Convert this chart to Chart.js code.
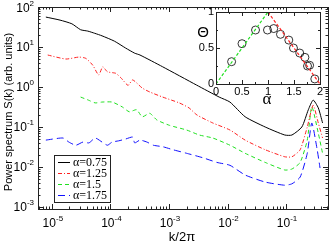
<!DOCTYPE html>
<html>
<head>
<meta charset="utf-8">
<script src="https://cdn.jsdelivr.net/npm/chart.js@4.4.1/dist/chart.umd.min.js"></script>
<style>
  body { margin: 0; background: #fff; }
  #wrap { position: relative; width: 332px; height: 244px; }
  #main { position: absolute; left: 0; top: 0; }
  #inset { position: absolute; left: 196px; top: 0; }
</style>
</head>
<body>
<div id="wrap">
  <canvas id="main" width="332" height="244"></canvas>
  <canvas id="inset" width="134" height="106"></canvas>
</div>
<script>
// power spectra, k/2pi vs S(k)
const k075 = [7.9e-6, 1.38e-5, 2.2e-5, 3.1e-5, 4.1e-5, 5.4e-5, 7.2e-5, 1.17e-4, 1.82e-4, 2.6e-4, 3.2e-4, 7.8e-4, 2.95e-3, 7.2e-3, 0.011, 0.02, 0.044, 0.095, 0.126, 0.186, 0.24, 0.29, 0.355, 0.42];
const s075 = [56, 47, 38, 27, 25, 22, 19, 14, 9.4, 7, 6.3, 3.2, 1.12, 0.56, 0.42, 0.18, 0.1, 0.063, 0.063, 0.1, 0.27, 0.47, 0.3, 0.126];

const k125 = [8.5e-6, 1.74e-5, 2.9e-5, 3.8e-5, 5.0e-5, 6.3e-5, 7.4e-5, 8.9e-5, 1.23e-4, 1.51e-4, 2.0e-4, 2.4e-4, 3.5e-4, 4.7e-4, 7.8e-4, 1.5e-3, 2.2e-3, 3.0e-3, 5.6e-3, 0.011, 0.02, 0.044, 0.095, 0.126, 0.174, 0.23, 0.29, 0.355, 0.42];
const s125 = [6.3, 5.0, 5.6, 5.2, 3.5, 2.0, 3.2, 2.4, 2.2, 1.7, 1.1, 1.5, 0.94, 0.75, 0.56, 0.4, 0.3, 0.2, 0.126, 0.084, 0.047, 0.027, 0.018, 0.018, 0.027, 0.1, 0.35, 0.126, 0.053];

const k150 = [3.1e-5, 4.2e-5, 5.5e-5, 7.2e-5, 1.07e-4, 1.58e-4, 2.1e-4, 2.8e-4, 3.5e-4, 4.7e-4, 6.2e-4, 1.02e-3, 2.0e-3, 3.3e-3, 5.6e-3, 0.011, 0.02, 0.044, 0.095, 0.126, 0.174, 0.23, 0.275, 0.355, 0.42];
const s150 = [0.56, 0.47, 0.4, 0.42, 0.42, 0.32, 0.24, 0.27, 0.18, 0.22, 0.15, 0.11, 0.084, 0.063, 0.053, 0.035, 0.022, 0.013, 0.0084, 0.0089, 0.013, 0.047, 0.32, 0.07, 0.022];

const k175 = [7.9e-6, 1.55e-5, 1.95e-5, 2.57e-5, 3.4e-5, 4.3e-5, 5.5e-5, 7.2e-5, 8.9e-5, 1.07e-4, 1.38e-4, 1.82e-4, 2.4e-4, 2.6e-4, 3.2e-4, 4.2e-4, 5.4e-4, 7.9e-4, 1.17e-3, 2.0e-3, 3.8e-3, 6.6e-3, 0.011, 0.02, 0.044, 0.095, 0.126, 0.174, 0.23, 0.275, 0.34, 0.38];
const s175 = [0.047, 0.053, 0.042, 0.035, 0.042, 0.04, 0.053, 0.042, 0.035, 0.042, 0.045, 0.05, 0.056, 0.04, 0.047, 0.042, 0.035, 0.032, 0.027, 0.022, 0.017, 0.013, 0.011, 0.0063, 0.0042, 0.0035, 0.0038, 0.0056, 0.022, 0.126, 0.027, 0.0094];

const seriesLabels = ['α=0.75', 'α=1.25', 'α=1.5', 'α=1.75'];
const xTickExp = [-5, -4, -3, -2, -1];
const yTickExp = [-3, -2, -1, 0, 1, 2];

// inset: Theta vs alpha
const alphaPts = [0.30, 0.50, 0.76, 0.99, 1.11, 1.24, 1.40, 1.49, 1.61, 1.71, 1.76, 1.80, 1.90];
const thetaPts = [0.31, 0.56, 0.75, 0.75, 0.77, 0.69, 0.61, 0.50, 0.43, 0.37, 0.25, 0.26, 0.07];
const riseA = [0, 1], riseT = [0, 1];
const fallA = [1, 2], fallT = [1, 0];
const insetXTicks = [0, 0.5, 1, 1.5, 2];
const insetYTicks = [0, 0.5, 1];

const SANS = '"Liberation Sans", Arial, sans-serif';
const SERIF = '"Liberation Serif", "Times New Roman", serif';

function pts(xs, ys) {
  return xs.map((x, i) => ({ x: x, y: ys[i] }));
}

// "10" with raised exponent
function powLabel(ctx, exp, x, y, align) {
  ctx.font = '12px ' + SANS;
  const w1 = ctx.measureText('10').width;
  ctx.font = '8px ' + SANS;
  const w2 = ctx.measureText(String(exp)).width;
  let x0 = x - (w1 + w2) / 2;
  if (align === 'right') x0 = x - w1 - w2;
  ctx.textAlign = 'left';
  ctx.textBaseline = 'alphabetic';
  ctx.font = '12px ' + SANS;
  ctx.fillText('10', x0, y);
  ctx.font = '8px ' + SANS;
  ctx.fillText(String(exp), x0 + w1, y - 6);
}

function logValues(min, max) {
  const out = [];
  for (let e = Math.floor(Math.log10(min)); e <= Math.ceil(Math.log10(max)); e++) {
    for (let m = 1; m < 10; m++) {
      const v = m * Math.pow(10, e);
      if (v >= min && v <= max) out.push({ v: v, major: m === 1 });
    }
  }
  return out;
}

const mainDecor = {
  id: 'mainDecor',
  afterDraw(chart) {
    const ctx = chart.ctx;
    const a = chart.chartArea;
    const xs = chart.scales.x, ys = chart.scales.y;
    ctx.save();
    ctx.strokeStyle = '#222';
    ctx.lineWidth = 1;
    ctx.strokeRect(Math.round(a.left) + 0.5, Math.round(a.top) + 0.5, Math.round(a.width), Math.round(a.height));

    ctx.beginPath();
    logValues(xs.min, xs.max).forEach(t => {
      const px = Math.round(xs.getPixelForValue(t.v)) + 0.5;
      const len = t.major ? 5 : 2.5;
      ctx.moveTo(px, a.bottom); ctx.lineTo(px, a.bottom - len);
      ctx.moveTo(px, a.top); ctx.lineTo(px, a.top + len);
    });
    logValues(ys.min, ys.max).forEach(t => {
      const py = Math.round(ys.getPixelForValue(t.v)) + 0.5;
      const len = t.major ? 5 : 2.5;
      ctx.moveTo(a.left, py); ctx.lineTo(a.left + len, py);
      ctx.moveTo(a.right, py); ctx.lineTo(a.right - len, py);
    });
    ctx.stroke();

    ctx.fillStyle = '#000';
    xTickExp.forEach(e => {
      powLabel(ctx, e, xs.getPixelForValue(Math.pow(10, e)) + 1, a.bottom + 18, 'center');
    });
    yTickExp.forEach(e => {
      powLabel(ctx, e, a.left - 4, ys.getPixelForValue(Math.pow(10, e)) + 4.5, 'right');
    });

    // axis titles
    ctx.font = '13px ' + SANS;
    ctx.textAlign = 'center';
    ctx.textBaseline = 'middle';
    ctx.fillText('k/2π', (a.left + a.right) / 2 - 1, 237);
    ctx.save();
    ctx.translate(9, 112);
    ctx.rotate(-Math.PI / 2);
    ctx.font = '11px ' + SANS;
    ctx.fillText('Power spectrum S(k) (arb. units)', 0, 0);
    ctx.restore();

    // legend box
    const bx = 54.5, by = 155.5, bw = 56, bh = 47;
    ctx.fillStyle = '#fff';
    ctx.fillRect(bx, by, bw, bh);
    ctx.strokeStyle = '#222';
    ctx.strokeRect(bx, by, bw, bh);
    chart.data.datasets.forEach((ds, i) => {
      const yy = 162.5 + i * 11;
      ctx.strokeStyle = ds.borderColor;
      ctx.lineWidth = 1;
      ctx.setLineDash(ds.borderDash || []);
      ctx.beginPath();
      ctx.moveTo(58, yy); ctx.lineTo(70, yy);
      ctx.stroke();
      ctx.setLineDash([]);
      ctx.fillStyle = '#000';
      ctx.font = '12px ' + SERIF;
      ctx.textAlign = 'left';
      ctx.textBaseline = 'middle';
      ctx.fillText(ds.label, 73, yy + 0.5);
    });
    ctx.restore();
  }
};

new Chart(document.getElementById('main'), {
  type: 'line',
  data: {
    datasets: [
      { label: seriesLabels[0], data: pts(k075, s075), borderColor: '#000000', borderWidth: 1, borderDash: [] },
      { label: seriesLabels[1], data: pts(k125, s125), borderColor: '#ff2020', borderWidth: 1, borderDash: [4, 2, 1, 2] },
      { label: seriesLabels[2], data: pts(k150, s150), borderColor: '#20e020', borderWidth: 1, borderDash: [4, 3] },
      { label: seriesLabels[3], data: pts(k175, s175), borderColor: '#1010ff', borderWidth: 1, borderDash: [7, 4] }
    ]
  },
  options: {
    responsive: false,
    animation: false,
    devicePixelRatio: 1,
    events: [],
    layout: { padding: { left: 38, top: 7, right: 4, bottom: 35 } },
    elements: { point: { radius: 0 }, line: { tension: 0.2 } },
    scales: {
      x: { type: 'logarithmic', min: 5.8e-6, max: 0.52, display: false },
      y: { type: 'logarithmic', min: 8.9e-4, max: 100, display: false }
    },
    plugins: { legend: { display: false }, tooltip: { enabled: false } }
  },
  plugins: [mainDecor]
});

const insetDecor = {
  id: 'insetDecor',
  afterDraw(chart) {
    const ctx = chart.ctx;
    const a = chart.chartArea;
    const xs = chart.scales.x, ys = chart.scales.y;
    ctx.save();
    ctx.strokeStyle = '#222';
    ctx.lineWidth = 1;
    ctx.strokeRect(Math.round(a.left) + 0.5, Math.round(a.top) + 0.5, Math.round(a.width), Math.round(a.height));
    ctx.beginPath();
    for (let v = 0; v <= 2.0001; v += 0.25) {
      const px = Math.round(xs.getPixelForValue(v)) + 0.5;
      const len = (Math.abs(v * 2 - Math.round(v * 2)) < 1e-6) ? 4 : 2;
      ctx.moveTo(px, a.bottom); ctx.lineTo(px, a.bottom - len);
      ctx.moveTo(px, a.top); ctx.lineTo(px, a.top + len);
    }
    for (let v = 0; v <= 1.0001; v += 0.25) {
      const py = Math.round(ys.getPixelForValue(v)) + 0.5;
      const len = (Math.abs(v * 2 - Math.round(v * 2)) < 1e-6) ? 4 : 2;
      ctx.moveTo(a.left, py); ctx.lineTo(a.left + len, py);
      ctx.moveTo(a.right, py); ctx.lineTo(a.right - len, py);
    }
    ctx.stroke();

    ctx.fillStyle = '#000';
    ctx.font = '11px ' + SANS;
    ctx.textAlign = 'center';
    ctx.textBaseline = 'top';
    insetXTicks.forEach(v => ctx.fillText(String(v), xs.getPixelForValue(v), a.bottom + 2));
    ctx.textAlign = 'right';
    ctx.textBaseline = 'middle';
    insetYTicks.forEach(v => ctx.fillText(String(v), a.left - 2, ys.getPixelForValue(v)));

    ctx.textAlign = 'center';
    ctx.font = '15px ' + SANS;
    ctx.fillText('Θ', 7, 33);
    ctx.font = '17px ' + SERIF;
    ctx.fillText('α', (a.left + a.right) / 2 - 1, 100);
    ctx.restore();
  }
};

new Chart(document.getElementById('inset'), {
  type: 'scatter',
  data: {
    datasets: [
      { data: pts(riseA, riseT), showLine: true, borderColor: '#20e020', borderWidth: 1.2, borderDash: [3, 2], pointRadius: 0 },
      { data: pts(fallA, fallT), showLine: true, borderColor: '#ff2020', borderWidth: 1.2, borderDash: [3, 2], pointRadius: 0 },
      { data: pts(alphaPts, thetaPts), showLine: false, pointRadius: 4, pointBorderWidth: 0.8, borderColor: '#000', backgroundColor: 'rgba(0,0,0,0)', clip: false }
    ]
  },
  options: {
    responsive: false,
    animation: false,
    devicePixelRatio: 1,
    events: [],
    layout: { padding: { left: 20, top: 12, right: 10, bottom: 22 } },
    scales: {
      x: { type: 'linear', min: 0, max: 2, display: false },
      y: { type: 'linear', min: 0, max: 1, display: false }
    },
    plugins: { legend: { display: false }, tooltip: { enabled: false } }
  },
  plugins: [insetDecor]
});
</script>
</body>
</html>
